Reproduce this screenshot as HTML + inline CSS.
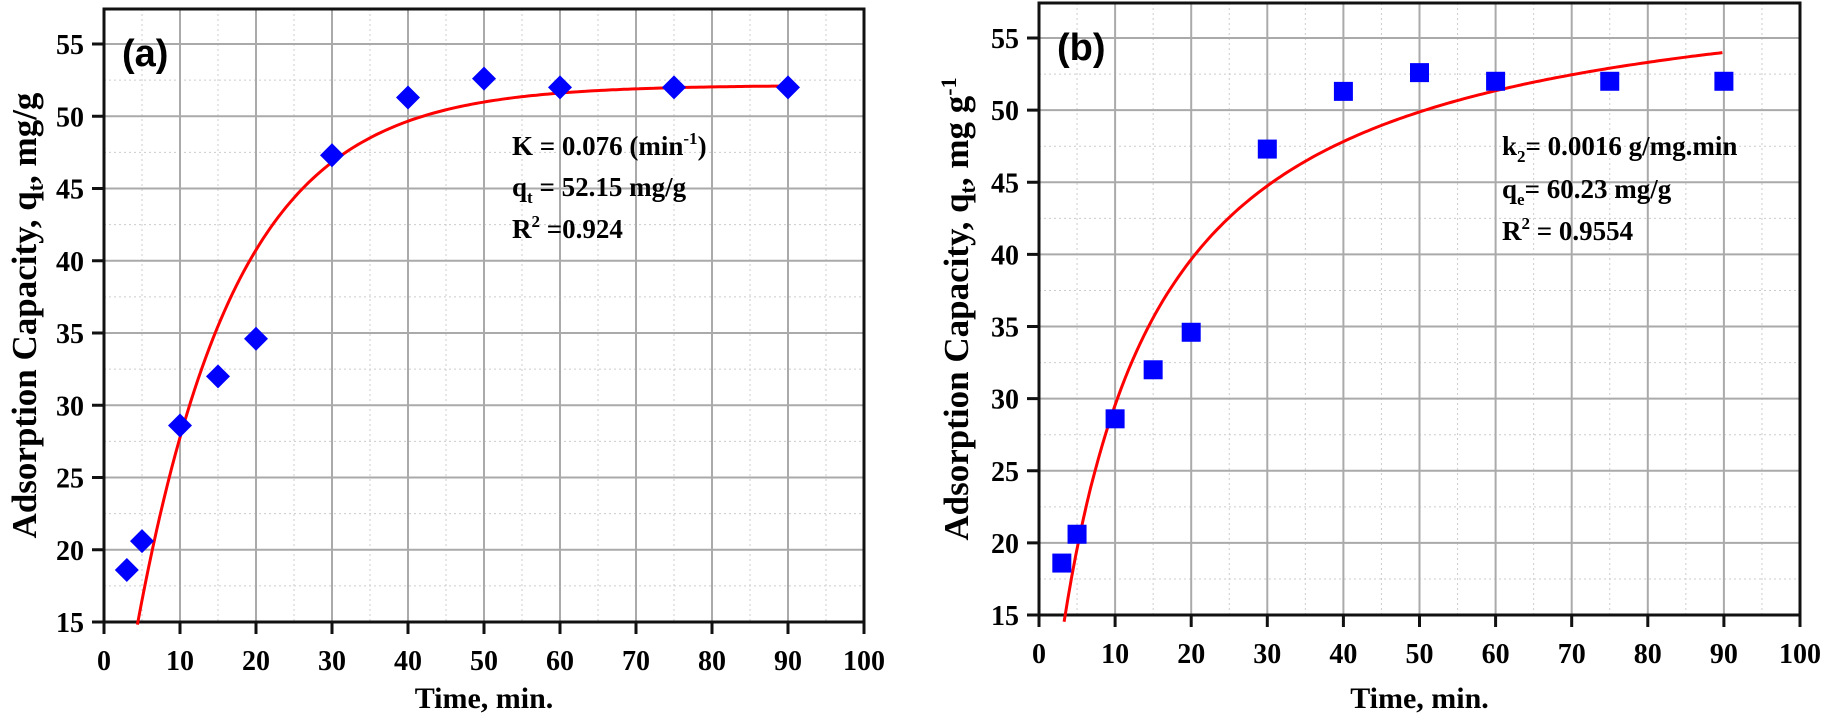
<!DOCTYPE html>
<html><head><meta charset="utf-8"><style>
html,body{margin:0;padding:0;background:#fff;}
svg{display:block;font-family:"Liberation Serif",serif;font-weight:bold;}
</style></head><body>
<svg id="s" width="1825" height="716" viewBox="0 0 1825 716" xmlns="http://www.w3.org/2000/svg"></svg>
<script>
const S=document.getElementById('s');let h='';
const data=[[3,18.6],[5,20.6],[10,28.6],[15,32],[20,34.6],[30,47.3],[40,51.3],[50,52.6],[60,52],[75,52],[90,52]];
function panel(x0,x1,ybot,y55,top,mk,f,t0,label,ann,annX,annY,titleX){
  const X=t=>x0+(x1-x0)*t/100, Y=q=>ybot+(y55-ybot)*(q-15)/40;
  for(let t=5;t<100;t+=10) h+=`<line x1="${X(t)}" x2="${X(t)}" y1="${top}" y2="${ybot}" stroke="#ccc" stroke-dasharray="2,3"/>`;
  for(let q=17.5;Y(q)>top;q+=5) h+=`<line x1="${x0}" x2="${x1}" y1="${Y(q)}" y2="${Y(q)}" stroke="#ccc" stroke-dasharray="2,3"/>`;
  for(let t=10;t<100;t+=10) h+=`<line x1="${X(t)}" x2="${X(t)}" y1="${top}" y2="${ybot}" stroke="#aaa" stroke-width="2"/>`;
  for(let q=20;q<=55;q+=5) h+=`<line x1="${x0}" x2="${x1}" y1="${Y(q)}" y2="${Y(q)}" stroke="#aaa" stroke-width="2"/>`;
  h+=`<rect x="${x0}" y="${top}" width="${x1-x0}" height="${ybot-top}" fill="none" stroke="#111" stroke-width="3"/>`;
  for(let t=0;t<=100;t+=10){h+=`<line x1="${X(t)}" x2="${X(t)}" y1="${ybot}" y2="${ybot+12}" stroke="#111" stroke-width="3"/>`;
    h+=`<text x="${X(t)}" y="${ybot+48}" font-size="28" text-anchor="middle">${t}</text>`;}
  for(let q=15;q<=55;q+=5){h+=`<line x1="${x0-12}" x2="${x0}" y1="${Y(q)}" y2="${Y(q)}" stroke="#111" stroke-width="3"/>`;
    h+=`<text x="${x0-20}" y="${Y(q)+10}" font-size="28" text-anchor="end">${q}</text>`;}
  let p='';for(let t=t0;t<=90;t+=0.5){p+=(p?'L':'M')+X(t).toFixed(1)+','+Y(f(t)).toFixed(1);}
  h+=`<path d="${p}" fill="none" stroke="#f00" stroke-width="3"/>`;
  for(const [t,q] of data){const cx=X(t),cy=Y(q);
    if(mk==='d') h+=`<polygon points="${cx},${cy-12} ${cx+12},${cy} ${cx},${cy+12} ${cx-12},${cy}" fill="#00f"/>`;
    else h+=`<rect x="${cx-9.5}" y="${cy-9.5}" width="19" height="19" fill="#00f"/>`;}
  h+=`<text x="${x0+18}" y="${top+57}" font-size="38" font-family="Liberation Sans,sans-serif">${label}</text>`;
  ann.forEach((a,i)=>h+=`<text x="${annX}" y="${annY[i]}" font-size="27">${a}</text>`);
  h+=`<text x="${(x0+x1)/2}" y="708" font-size="30" text-anchor="middle">Time, min.</text>`;
  h+=`<text transform="translate(${titleX},${(top+ybot)/2}) rotate(-90)" font-size="35" text-anchor="middle">${label==='(a)'?'Adsorption Capacity, q<tspan font-size="22" dy="7">t</tspan><tspan dy="-7">, mg/g</tspan>':'Adsorption Capacity, q<tspan font-size="22" dy="7">t</tspan><tspan dy="-7">, mg g</tspan><tspan font-size="22" dy="-12">-1</tspan>'}</text>`;
}
panel(104,864,622,44,9,'d',t=>52.15*(1-Math.exp(-0.076*t)),4.4,'(a)',
 ['K = 0.076 (min<tspan font-size="17" dy="-11">-1</tspan><tspan dy="11">)</tspan>','q<tspan font-size="17" dy="7">t</tspan><tspan dy="-7"> = 52.15 mg/g</tspan>','R<tspan font-size="17" dy="-11">2</tspan><tspan dy="11"> =0.924</tspan>'],512,[155,196,238],36);
panel(1039,1800,615,38,3,'s',t=>5.804*t/(1+0.09637*t),3.3,'(b)',
 ['k<tspan font-size="17" dy="7">2</tspan><tspan dy="-7">= 0.0016 g/mg.min</tspan>','q<tspan font-size="17" dy="7">e</tspan><tspan dy="-7">= 60.23 mg/g</tspan>','R<tspan font-size="17" dy="-11">2</tspan><tspan dy="11"> = 0.9554</tspan>'],1502,[155,198,240],968);
S.innerHTML=h;
</script>
</body></html>
